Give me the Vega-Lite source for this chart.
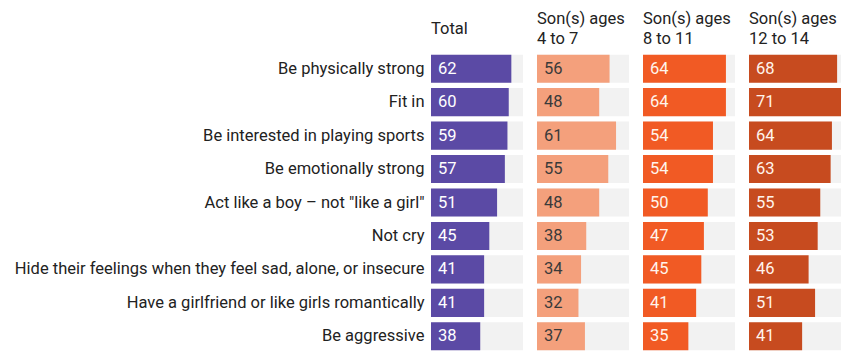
{
  "$schema": "https://vega.github.io/schema/vega-lite/v6.json",
  "padding": {"left": 14, "top": 10, "right": 5, "bottom": 5},
  "background": "white",
  "config": {
    "font": "Roboto",
    "view": {"stroke": null},
    "concat": {"spacing": 14},
    "title": {"font": "Roboto", "fontSize": 16.5, "fontWeight": "normal", "color": "#222222", "anchor": "start", "frame": "group", "lineHeight": 20}
  },
  "bounds": "flush",
  "datasets": {
    "survey": [
      {"item": "Be physically strong", "group": "Total", "value": 62},
      {"item": "Fit in", "group": "Total", "value": 60},
      {"item": "Be interested in playing sports", "group": "Total", "value": 59},
      {"item": "Be emotionally strong", "group": "Total", "value": 57},
      {"item": "Act like a boy – not \"like a girl\"", "group": "Total", "value": 51},
      {"item": "Not cry", "group": "Total", "value": 45},
      {"item": "Hide their feelings when they feel sad, alone, or insecure", "group": "Total", "value": 41},
      {"item": "Have a girlfriend or like girls romantically", "group": "Total", "value": 41},
      {"item": "Be aggressive", "group": "Total", "value": 38},
      {"item": "Be physically strong", "group": "4-7", "value": 56},
      {"item": "Fit in", "group": "4-7", "value": 48},
      {"item": "Be interested in playing sports", "group": "4-7", "value": 61},
      {"item": "Be emotionally strong", "group": "4-7", "value": 55},
      {"item": "Act like a boy – not \"like a girl\"", "group": "4-7", "value": 48},
      {"item": "Not cry", "group": "4-7", "value": 38},
      {"item": "Hide their feelings when they feel sad, alone, or insecure", "group": "4-7", "value": 34},
      {"item": "Have a girlfriend or like girls romantically", "group": "4-7", "value": 32},
      {"item": "Be aggressive", "group": "4-7", "value": 37},
      {"item": "Be physically strong", "group": "8-11", "value": 64},
      {"item": "Fit in", "group": "8-11", "value": 64},
      {"item": "Be interested in playing sports", "group": "8-11", "value": 54},
      {"item": "Be emotionally strong", "group": "8-11", "value": 54},
      {"item": "Act like a boy – not \"like a girl\"", "group": "8-11", "value": 50},
      {"item": "Not cry", "group": "8-11", "value": 47},
      {"item": "Hide their feelings when they feel sad, alone, or insecure", "group": "8-11", "value": 45},
      {"item": "Have a girlfriend or like girls romantically", "group": "8-11", "value": 41},
      {"item": "Be aggressive", "group": "8-11", "value": 35},
      {"item": "Be physically strong", "group": "12-14", "value": 68},
      {"item": "Fit in", "group": "12-14", "value": 71},
      {"item": "Be interested in playing sports", "group": "12-14", "value": 64},
      {"item": "Be emotionally strong", "group": "12-14", "value": 63},
      {"item": "Act like a boy – not \"like a girl\"", "group": "12-14", "value": 55},
      {"item": "Not cry", "group": "12-14", "value": 53},
      {"item": "Hide their feelings when they feel sad, alone, or insecure", "group": "12-14", "value": 46},
      {"item": "Have a girlfriend or like girls romantically", "group": "12-14", "value": 51},
      {"item": "Be aggressive", "group": "12-14", "value": 41}
    ]
  },
  "data": {"name": "survey"},
  "hconcat": [
    {
      "width": 92, "height": 301,
      "title": {"text": "Total", "baseline": "alphabetic", "offset": 2},
      "transform": [{"filter": "datum.group === 'Total'"}],
      "encoding": {
        "y": {"field": "item", "type": "nominal", "sort": null, "scale": {"paddingInner": 0.16, "paddingOuter": 0.08},
              "axis": {"title": null, "ticks": false, "domain": false, "labelFont": "Roboto", "labelFontSize": 16.5, "labelColor": "#222222", "labelPadding": 7, "labelLimit": 500}}
      },
      "layer": [
        {"mark": {"type": "bar", "color": "#F2F2F2"}, "encoding": {"x": {"datum": 71, "type": "quantitative", "scale": {"domain": [0, 71], "nice": false}, "axis": null}}},
        {"mark": {"type": "bar", "color": "#5B4AA5"}, "encoding": {"x": {"field": "value", "type": "quantitative"}}},
        {"mark": {"type": "text", "align": "left", "baseline": "middle", "dx": 7, "fontSize": 16.5, "color": "white"}, "encoding": {"x": {"datum": 0, "type": "quantitative"}, "text": {"field": "value"}}}
      ]
    },
    {
      "width": 92, "height": 301,
      "title": {"text": ["Son(s) ages", "4 to 7"], "baseline": "alphabetic", "offset": -8},
      "transform": [{"filter": "datum.group === '4-7'"}],
      "encoding": {
        "y": {"field": "item", "type": "nominal", "sort": null, "scale": {"paddingInner": 0.16, "paddingOuter": 0.08}, "axis": null}
      },
      "layer": [
        {"mark": {"type": "bar", "color": "#F2F2F2"}, "encoding": {"x": {"datum": 71, "type": "quantitative", "scale": {"domain": [0, 71], "nice": false}, "axis": null}}},
        {"mark": {"type": "bar", "color": "#F4A07C"}, "encoding": {"x": {"field": "value", "type": "quantitative"}}},
        {"mark": {"type": "text", "align": "left", "baseline": "middle", "dx": 7, "fontSize": 16.5, "color": "#3A3A3A"}, "encoding": {"x": {"datum": 0, "type": "quantitative"}, "text": {"field": "value"}}}
      ]
    },
    {
      "width": 92, "height": 301,
      "title": {"text": ["Son(s) ages", "8 to 11"], "baseline": "alphabetic", "offset": -8},
      "transform": [{"filter": "datum.group === '8-11'"}],
      "encoding": {
        "y": {"field": "item", "type": "nominal", "sort": null, "scale": {"paddingInner": 0.16, "paddingOuter": 0.08}, "axis": null}
      },
      "layer": [
        {"mark": {"type": "bar", "color": "#F2F2F2"}, "encoding": {"x": {"datum": 71, "type": "quantitative", "scale": {"domain": [0, 71], "nice": false}, "axis": null}}},
        {"mark": {"type": "bar", "color": "#F15A24"}, "encoding": {"x": {"field": "value", "type": "quantitative"}}},
        {"mark": {"type": "text", "align": "left", "baseline": "middle", "dx": 7, "fontSize": 16.5, "color": "#FFF4EC"}, "encoding": {"x": {"datum": 0, "type": "quantitative"}, "text": {"field": "value"}}}
      ]
    },
    {
      "width": 92, "height": 301,
      "title": {"text": ["Son(s) ages", "12 to 14"], "baseline": "alphabetic", "offset": -8},
      "transform": [{"filter": "datum.group === '12-14'"}],
      "encoding": {
        "y": {"field": "item", "type": "nominal", "sort": null, "scale": {"paddingInner": 0.16, "paddingOuter": 0.08}, "axis": null}
      },
      "layer": [
        {"mark": {"type": "bar", "color": "#F2F2F2"}, "encoding": {"x": {"datum": 71, "type": "quantitative", "scale": {"domain": [0, 71], "nice": false}, "axis": null}}},
        {"mark": {"type": "bar", "color": "#C74B1F"}, "encoding": {"x": {"field": "value", "type": "quantitative"}}},
        {"mark": {"type": "text", "align": "left", "baseline": "middle", "dx": 7, "fontSize": 16.5, "color": "#FFF4EC"}, "encoding": {"x": {"datum": 0, "type": "quantitative"}, "text": {"field": "value"}}}
      ]
    }
  ]
}
